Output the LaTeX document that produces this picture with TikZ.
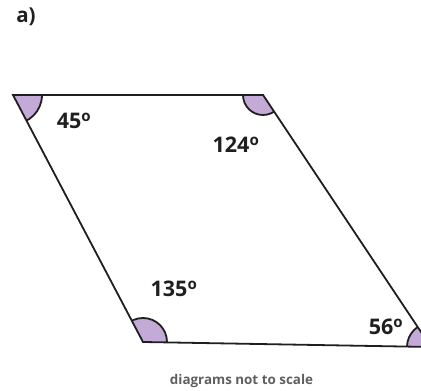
\documentclass[tikz,border=0pt]{standalone}
\usepackage{fontspec}
\setmainfont{Open Sans}
\definecolor{anglefill}{RGB}{196,170,214}
\definecolor{notegray}{RGB}{95,95,95}

\begin{document}
\begin{tikzpicture}[x=1pt,y=1pt,
 side/.style={draw=black!88,line width=1.8pt,line join=miter},
 angmark/.style={fill=anglefill,draw=black!88,line width=1.8pt},
 deg/.style={font=\fontsize{21.5}{24}\selectfont\bfseries,inner sep=0pt,text=black!88},
 note/.style={font=\fontsize{13.4}{15}\selectfont\bfseries,inner sep=0pt,text=notegray}]
\useasboundingbox (0,0) rectangle (421,391);
\clip (0,0) rectangle (421,391);
% corners of the quadrilateral
\coordinate (tl) at (13,296);
\coordinate (tr) at (263,296);
\coordinate (br) at (431,44);
\coordinate (bl) at (143,49);
% angle marks, kept inside the shape
\begin{scope}
 \clip (tl) -- (tr) -- (br) -- (bl) -- cycle;
 \filldraw[angmark] (tl) circle (29);
 \filldraw[angmark] (tr) circle (20);
 \filldraw[angmark] (bl) circle (24);
 \filldraw[angmark] (br) circle (24);
\end{scope}
\draw[side] (tl) -- (tr) -- (br) -- (bl) -- cycle;
% labels
\node[deg,font=\fontsize{20.5}{24}\selectfont\bfseries] (part) at (26,374) {a)};
\node[deg] (angtl) at (74,270) {45\textsuperscript{o}};
\node[deg] (angtr) at (236,246) {124\textsuperscript{o}};
\node[deg] (angbl) at (174,102) {135\textsuperscript{o}};
\node[deg] (angbr) at (386,64) {56\textsuperscript{o}};
\node[note] (scale) at (241.5,10) {diagrams not to scale};
\end{tikzpicture}
\end{document}
